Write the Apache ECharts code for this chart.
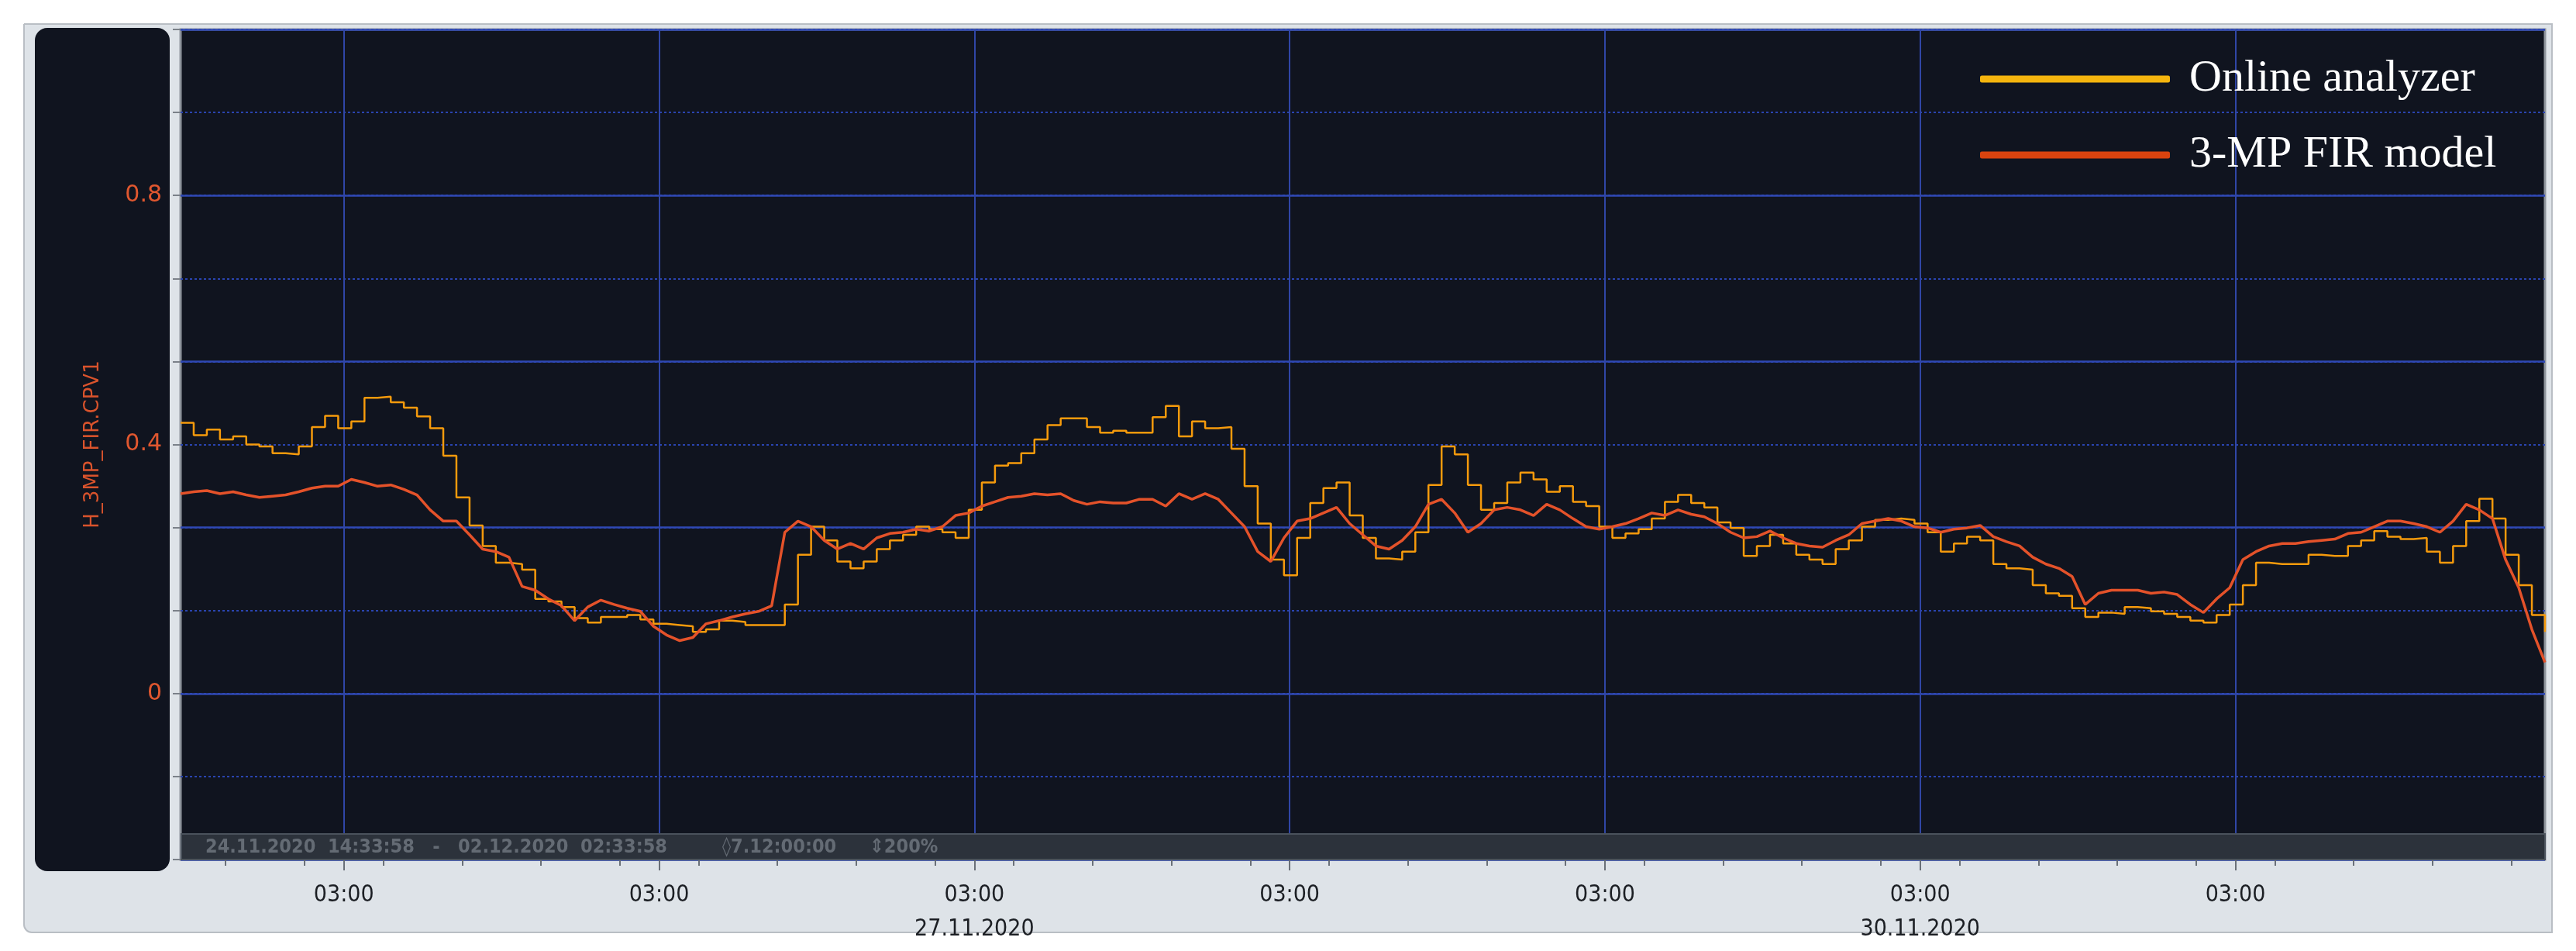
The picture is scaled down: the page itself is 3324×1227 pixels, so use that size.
<!doctype html>
<html lang="en">
<head>
<meta charset="UTF-8">
<title>H_3MP_FIR.CPV1</title>
<script src="https://cdn.jsdelivr.net/npm/echarts@6/dist/echarts.min.js"></script>
<style>
  html, body { margin: 0; padding: 0; background: #fff; }
  #chart { width: 3324px; height: 1227px; }
</style>
</head>
<body>
<div id="chart"></div>
<script>
// hourly samples, starting 24.11.2020 14:33:58 (t = 0..180 h)
var startOffset = 11.566; // hours after 24.11.2020 03:00
var analyzer = [
  0.435,0.415,0.424,0.408,0.413,0.400,0.397,0.386,0.384,0.397,
  0.428,0.446,0.426,0.437,0.475,0.477,0.468,0.459,0.445,0.426,
  0.382,0.315,0.270,0.237,0.210,0.208,0.199,0.152,0.148,0.139,
  0.121,0.114,0.123,0.123,0.126,0.119,0.112,0.110,0.108,0.099,
  0.103,0.117,0.115,0.110,0.110,0.110,0.143,0.223,0.268,0.246,
  0.212,0.201,0.212,0.232,0.246,0.255,0.268,0.264,0.259,0.250,
  0.295,0.339,0.366,0.370,0.386,0.408,0.431,0.442,0.442,0.428,
  0.419,0.422,0.419,0.419,0.444,0.462,0.413,0.437,0.426,0.428,
  0.393,0.333,0.273,0.215,0.190,0.250,0.306,0.330,0.339,0.286,
  0.250,0.217,0.215,0.228,0.259,0.335,0.397,0.384,0.335,0.295,
  0.306,0.339,0.355,0.344,0.324,0.333,0.308,0.301,0.268,0.250,
  0.257,0.264,0.281,0.308,0.319,0.306,0.299,0.275,0.266,0.221,
  0.237,0.255,0.241,0.223,0.215,0.208,0.232,0.246,0.268,0.279,
  0.281,0.279,0.273,0.259,0.228,0.241,0.252,0.246,0.208,0.201,
  0.199,0.174,0.161,0.157,0.137,0.123,0.130,0.128,0.139,0.137,
  0.132,0.128,0.123,0.117,0.114,0.126,0.143,0.174,0.210,0.208,
  0.208,0.208,0.223,0.221,0.221,0.237,0.246,0.261,0.252,0.248,
  0.250,0.228,0.210,0.237,0.277,0.313,0.281,0.223,0.174,0.126,
  0.099
];
var firModel = [
  0.321,0.324,0.326,0.321,0.324,0.319,0.315,0.317,0.319,0.324,
  0.330,0.333,0.333,0.344,0.339,0.333,0.335,0.328,0.319,0.295,
  0.277,0.277,0.255,0.232,0.228,0.219,0.172,0.166,0.152,0.141,
  0.117,0.139,0.150,0.143,0.137,0.132,0.108,0.094,0.085,0.090,
  0.112,0.117,0.123,0.128,0.132,0.141,0.259,0.277,0.268,0.246,
  0.232,0.241,0.232,0.250,0.257,0.259,0.264,0.261,0.268,0.286,
  0.290,0.301,0.308,0.315,0.317,0.321,0.319,0.321,0.310,0.304,
  0.308,0.306,0.306,0.312,0.312,0.301,0.321,0.312,0.321,0.312,
  0.290,0.268,0.228,0.212,0.250,0.277,0.281,0.290,0.299,0.273,
  0.255,0.237,0.232,0.246,0.268,0.304,0.312,0.290,0.259,0.273,
  0.295,0.299,0.295,0.286,0.304,0.295,0.281,0.268,0.264,0.268,
  0.273,0.281,0.290,0.286,0.295,0.288,0.284,0.273,0.259,0.250,
  0.252,0.261,0.250,0.241,0.237,0.235,0.246,0.255,0.273,0.277,
  0.281,0.277,0.268,0.266,0.259,0.264,0.266,0.270,0.252,0.244,
  0.237,0.219,0.208,0.201,0.188,0.143,0.161,0.166,0.166,0.166,
  0.161,0.163,0.159,0.143,0.130,0.152,0.170,0.215,0.228,0.237,
  0.241,0.241,0.244,0.246,0.248,0.257,0.259,0.268,0.277,0.277,
  0.273,0.268,0.259,0.277,0.304,0.295,0.281,0.215,0.170,0.103,
  0.050
];
var yTickLabels = ['0', '0.4', '0.8'];
var minorTicks = [15, 21, 27, 33, 39, 45, 51, 57, 63, 69, 75, 81, 87, 93, 99, 105,
  111, 117, 123, 129, 135, 141, 147, 153, 159, 165, 171, 177, 183, 189];
var dayTicks = [24, 48, 72, 96, 120, 144, 168];
var dateLabels = { 72: '27.11.2020', 144: '30.11.2020' };

function toPoints(arr) {
  return arr.map(function (v, i) { return [startOffset + i, v]; });
}

var chart = echarts.init(document.getElementById('chart'));
var xMin = startOffset, xMax = startOffset + 180;
var font = 'DejaVu Sans Condensed';

chart.setOption({
  backgroundColor: '#ffffff',
  animation: false,
  graphic: [
    { type: 'rect', z: -10, shape: { x: 31, y: 31, width: 3262, height: 1172, r: [0, 0, 0, 10] },
      style: { fill: '#dee3e8', stroke: '#b9bec4', lineWidth: 2 } },
    { type: 'rect', z: -5, shape: { x: 45, y: 36, width: 174, height: 1088, r: 16 },
      style: { fill: '#10141f' } },
    { type: 'rect', z: 50, shape: { x: 234, y: 1076, width: 3050, height: 33 },
      style: { fill: '#2c323b', stroke: '#4a525c', lineWidth: 2 } },
    { type: 'text', z: 51, x: 265, y: 1093,
      style: { text: '24.11.2020  14:33:58   -   02.12.2020  02:33:58', fill: '#646b74',
        font: 'bold 25px "' + font + '"', textVerticalAlign: 'middle' } },
    { type: 'text', z: 51, x: 932, y: 1093,
      style: { text: '\u25CA7.12:00:00', fill: '#646b74', font: 'bold 25px "' + font + '"', textVerticalAlign: 'middle' } },
    { type: 'text', z: 51, x: 1122, y: 1093,
      style: { text: '\u21D5200%', fill: '#646b74', font: 'bold 25px "' + font + '"', textVerticalAlign: 'middle' } }
  ],
  grid: {
    left: 233, top: 38, width: 3051, height: 1071,
    show: true, backgroundColor: '#10141f', borderColor: '#8f959d', borderWidth: 3
  },
  legend: {
    orient: 'vertical', left: 2550, top: 68, itemWidth: 245, itemHeight: 9, itemGap: 40,
    icon: 'roundRect',
    textStyle: { color: '#ffffff', fontFamily: 'Liberation Serif', fontSize: 58, padding: [0, 0, 0, 20] },
    data: [
      { name: 'Online analyzer', itemStyle: { color: '#f5b50e' } },
      { name: '3-MP FIR model', itemStyle: { color: '#d9430f' } }
    ]
  },
  xAxis: [
    {
      type: 'value', min: xMin, max: xMax,
      axisLine: { show: false, onZero: false },
      axisTick: { show: true, length: 8, customValues: minorTicks, lineStyle: { color: '#6a7078', width: 2 } },
      splitLine: { show: false },
      axisLabel: {
        margin: 24, color: '#1c1f24', fontFamily: font, fontSize: 30, lineHeight: 44,
        customValues: dayTicks,
        formatter: function (v) {
          var h = Math.round(v);
          return dateLabels[h] ? '03:00\n' + dateLabels[h] : '03:00';
        }
      }
    },
    {
      type: 'value', min: xMin, max: xMax, position: 'bottom',
      axisLine: { show: false, onZero: false }, axisLabel: { show: false },
      axisTick: { show: true, length: 14, customValues: dayTicks, lineStyle: { color: '#6a7078', width: 2 } },
      splitLine: { show: false }
    }
  ],
  yAxis: [
    {
      type: 'value', min: -4 / 15, max: 16 / 15, interval: 2 / 15,
      name: 'H_3MP_FIR.CPV1', nameLocation: 'middle', nameRotate: 90, nameGap: 100,
      nameTextStyle: { color: '#d9532c', fontFamily: 'DejaVu Sans', fontSize: 26 },
      axisLine: { show: false, onZero: false },
      axisTick: { show: true, length: 10, lineStyle: { color: '#7b8189', width: 2 } },
      axisLabel: {
        margin: 24, color: '#e0572f', fontFamily: 'DejaVu Sans', fontSize: 30,
        formatter: function (v) {
          var r = Math.round(v * 10) / 10;
          if (Math.abs(v - r) > 0.001) return '';
          var s = String(r);
          return yTickLabels.indexOf(s) >= 0 ? s : '';
        }
      },
      splitLine: { show: true, lineStyle: { color: '#2a44b0', width: 2, type: [3, 3] } }
    },
    {
      type: 'value', min: -4 / 15, max: 16 / 15, interval: 4 / 15, position: 'left',
      axisLine: { show: false, onZero: false }, axisTick: { show: false }, axisLabel: { show: false },
      splitLine: { show: true, lineStyle: { color: '#2f48b4', width: 2.5 } }
    }
  ],
  series: [
    {
      name: 'Online analyzer', type: 'line', step: 'end', showSymbol: false, z: 3,
      lineStyle: { color: '#f59a0c', width: 2.5 }, itemStyle: { color: '#f5b50e' },
      data: toPoints(analyzer),
      markLine: {
        silent: true, symbol: 'none', label: { show: false }, z: 1,
        lineStyle: { color: '#3046a6', width: 2, type: 'solid' },
        data: dayTicks.map(function (d) { return { xAxis: d }; })
      }
    },
    {
      name: '3-MP FIR model', type: 'line', showSymbol: false, z: 4,
      lineStyle: { color: '#e4522a', width: 3.5 }, itemStyle: { color: '#d9430f' },
      data: toPoints(firModel)
    }
  ]
});
</script>
</body>
</html>
